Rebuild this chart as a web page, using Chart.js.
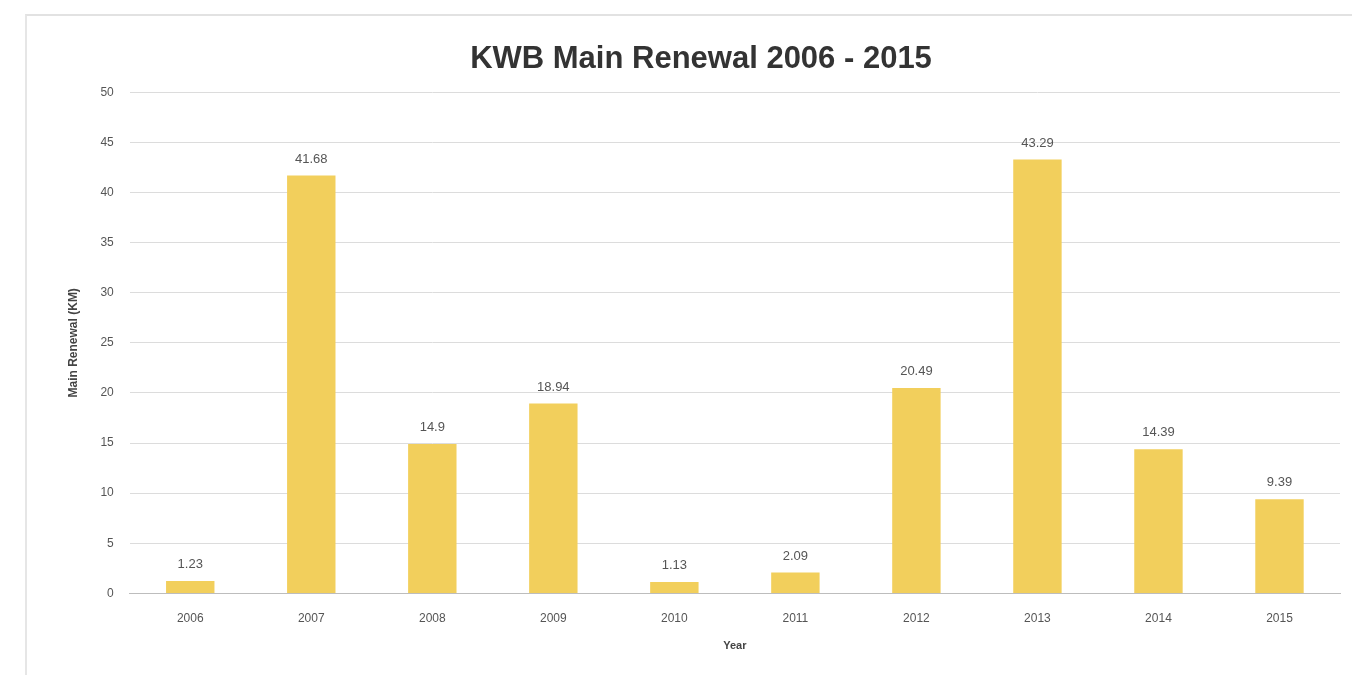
<!DOCTYPE html>
<html>
<head>
<meta charset="utf-8">
<script src="https://cdn.jsdelivr.net/npm/chart.js@4"></script>
<style>
  html, body { margin: 0; padding: 0; background: #fff; }
  #wrap { position: relative; width: 1352px; height: 675px; }
  #frame { position: absolute; left: 25px; top: 14px; right: 0; bottom: 0;
           border-top: 2px solid #e2e2e2; border-left: 2px solid #e6e6e6; }
  canvas { position: absolute; left: 0; top: 0; }
</style>
</head>
<body>
<div id="wrap">
  <div id="frame"></div>
  <canvas id="renewalChart" width="1352" height="675"></canvas>
</div>
<script>
const years = ['2006', '2007', '2008', '2009', '2010', '2011', '2012', '2013', '2014', '2015'];
const renewalKm = [1.23, 41.68, 14.9, 18.94, 1.13, 2.09, 20.49, 43.29, 14.39, 9.39];
const valueLabels = ['1.23', '41.68', '14.9', '18.94', '1.13', '2.09', '20.49', '43.29', '14.39', '9.39'];

const fontFamily = "'Liberation Sans', 'DejaVu Sans', sans-serif";

// labels above each bar
const barLabels = {
    id: 'barLabels',
    afterDatasetsDraw(chart) {
        const ctx = chart.ctx;
        const meta = chart.getDatasetMeta(0);
        ctx.save();
        ctx.fillStyle = '#555';
        ctx.font = '13px ' + fontFamily;
        ctx.textAlign = 'center';
        ctx.textBaseline = 'bottom';
        meta.data.forEach((bar, i) => {
            ctx.fillText(valueLabels[i], bar.x, bar.y - 10);
        });
        ctx.restore();
    }
};

const ctx1 = document.getElementById('renewalChart');

new Chart(ctx1, {
    type: 'bar',
    data: {
        labels: years,
        datasets: [{
            label: 'Main Renewal (KM)',
            data: renewalKm,
            backgroundColor: '#f2cf5c',
            borderWidth: 0,
            barPercentage: 0.4,
            categoryPercentage: 1.0
        }]
    },
    plugins: [barLabels],
    options: {
        responsive: false,
        animation: false,
        layout: { padding: { top: 41, left: 62, right: 12, bottom: 18 } },
        plugins: {
            legend: { display: false },
            tooltip: { enabled: false },
            title: {
                display: true,
                text: 'KWB Main Renewal 2006 - 2015',
                color: '#333',
                font: { family: fontFamily, size: 31, weight: 'bold' },
                padding: { top: 0, bottom: 14 }
            }
        },
        scales: {
            y: {
                min: 0,
                max: 50,
                ticks: { stepSize: 5, color: '#555', font: { family: fontFamily, size: 12 }, padding: 16 },
                grid: { color: '#dcdcdc', drawTicks: false },
                border: { display: false },
                title: {
                    display: true,
                    text: 'Main Renewal (KM)',
                    color: '#444',
                    font: { family: fontFamily, size: 12, weight: 'bold' },
                    padding: { bottom: 4 }
                }
            },
            x: {
                ticks: { color: '#555', font: { family: fontFamily, size: 12 }, padding: 10 },
                grid: { display: false },
                border: { color: '#bdbdbd', width: 1 },
                title: {
                    display: true,
                    text: 'Year',
                    color: '#444',
                    font: { family: fontFamily, size: 11, weight: 'bold' },
                    padding: { top: 4 }
                }
            }
        }
    }
});
</script>
</body>
</html>
